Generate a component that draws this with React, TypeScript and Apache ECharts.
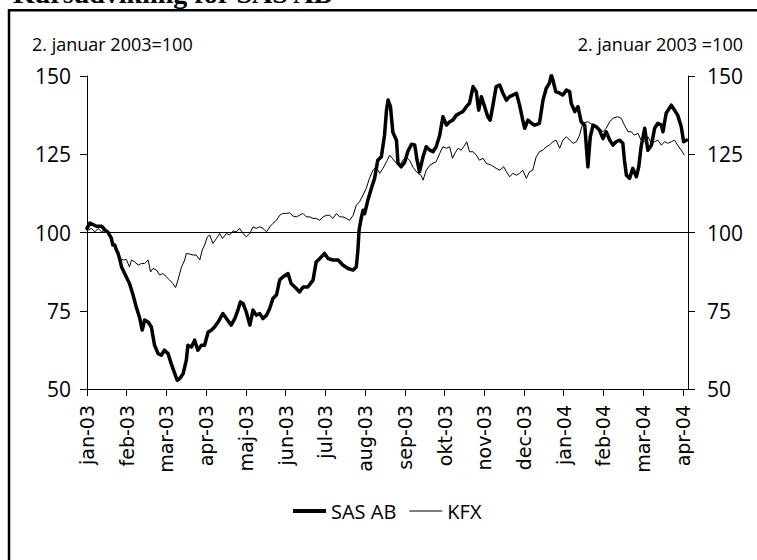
import React, { useEffect, useRef } from 'react';
import * as echarts from 'echarts';

const titleText = 'Kursudvikling for SAS AB';
const baseNoteLeft = '2. januar 2003=100';
const baseNoteRight = '2. januar 2003 =100';
const monthLabels = ['jan-03', 'feb-03', 'mar-03', 'apr-03', 'maj-03', 'jun-03', 'jul-03', 'aug-03', 'sep-03', 'okt-03', 'nov-03', 'dec-03', 'jan-04', 'feb-04', 'mar-04', 'apr-04'];
const yMin = 50;
const yMax = 150;
const yStep = 25;
const baseLevel = 100;

// [months since 1 Jan 2003, index value]
const sasAB: [number, number][] = [
  [0, 101.3], [0.07, 103], [0.24, 102], [0.37, 102], [0.45, 100.8], [0.52, 100.2], [0.61, 98.3], [0.65, 96], [0.7, 96], [0.74, 94.4],
  [0.78, 93.4], [0.82, 91.7], [0.87, 89], [0.99, 85.8], [1.07, 83.7], [1.16, 80], [1.24, 76.2], [1.33, 72.5], [1.39, 68.8], [1.45, 72],
  [1.54, 71.4], [1.62, 69.8], [1.7, 64], [1.79, 61.3], [1.87, 60.8], [1.95, 62.4], [2.04, 61.3], [2.12, 58.1], [2.21, 54.9], [2.27, 52.8],
  [2.33, 53.3], [2.42, 54.9], [2.5, 59.2], [2.54, 64], [2.63, 63.4], [2.71, 65.6], [2.79, 62.4], [2.88, 64], [2.96, 64], [3.05, 68.2],
  [3.13, 68.8], [3.21, 69.8], [3.3, 71.4], [3.42, 74.1], [3.51, 72.5], [3.63, 70.4], [3.72, 72.5], [3.8, 75.2], [3.86, 77.8], [3.93, 77.3],
  [4.01, 74.6], [4.1, 70.4], [4.18, 75.2], [4.26, 73.6], [4.35, 74.1], [4.43, 72.5], [4.52, 73.6], [4.6, 75.7], [4.68, 78.9], [4.77, 80],
  [4.85, 84.8], [4.93, 85.8], [5.06, 86.9], [5.14, 83.7], [5.27, 82.1], [5.35, 81], [5.44, 82.6], [5.56, 82.6], [5.69, 84.8], [5.77, 90.6],
  [5.86, 91.7], [5.98, 93.3], [6.07, 91.7], [6.19, 91.2], [6.32, 91.2], [6.44, 89.6], [6.57, 88.5], [6.7, 88], [6.78, 89], [6.82, 94.4],
  [6.85, 100.8], [6.91, 105], [6.95, 107.1], [6.99, 106], [7.07, 110.3], [7.16, 114.1], [7.24, 117.3], [7.32, 123.1], [7.41, 124.2], [7.49, 131.1],
  [7.54, 139.1], [7.58, 142.3], [7.64, 140.2], [7.7, 132], [7.79, 129.5], [7.83, 122.1], [7.91, 121], [8.0, 122.5], [8.08, 126], [8.17, 128.2],
  [8.25, 128], [8.31, 123.1], [8.37, 119.4], [8.46, 124.2], [8.54, 127.4], [8.63, 126.3], [8.71, 125.8], [8.79, 127.4], [8.88, 131.1], [8.96, 137],
  [9.05, 134.3], [9.13, 135.4], [9.21, 135.9], [9.3, 137.5], [9.38, 138.1], [9.46, 138.6], [9.55, 140.2], [9.63, 141.3], [9.72, 146.6], [9.8, 145],
  [9.86, 139.1], [9.93, 143.4], [10.01, 140.2], [10.09, 137], [10.15, 135.9], [10.22, 140.7], [10.3, 146.6], [10.39, 147.1], [10.47, 144.5], [10.56, 142.3],
  [10.64, 143.4], [10.72, 143.9], [10.81, 144.5], [10.89, 140.7], [10.97, 135.9], [11.02, 133.3], [11.1, 135.9], [11.19, 134.9], [11.27, 134.3], [11.39, 134.9],
  [11.48, 142.3], [11.56, 146], [11.64, 147.7], [11.69, 150.3], [11.73, 148.7], [11.8, 145], [11.9, 144.5], [11.98, 143.9], [12.07, 145.5], [12.15, 145],
  [12.19, 141.3], [12.28, 138.6], [12.36, 140.2], [12.44, 135.4], [12.53, 134.3], [12.61, 121], [12.67, 130.6], [12.74, 134.3], [12.82, 133.8], [12.9, 132.7],
  [12.99, 130], [13.07, 132.2], [13.16, 129.5], [13.24, 127.9], [13.32, 129], [13.41, 129.5], [13.49, 128.5], [13.53, 123.1], [13.58, 118.3], [13.66, 117.3],
  [13.74, 120.5], [13.83, 117.8], [13.89, 121], [13.95, 127.4], [14.04, 133.3], [14.12, 126.3], [14.21, 127.9], [14.29, 133.3], [14.37, 134.9], [14.46, 134.3],
  [14.5, 132.2], [14.58, 138.1], [14.71, 140.7], [14.79, 139.1], [14.87, 137.5], [14.96, 133.8], [15.02, 129], [15.09, 129.5],
];

const kfx: [number, number][] = [
  [0, 100.6], [0.11, 101.3], [0.2, 100.2], [0.28, 101.3], [0.37, 100.2], [0.45, 100.8], [0.57, 99.2], [0.65, 97], [0.74, 94.4], [0.82, 91.7],
  [0.91, 91.2], [0.99, 91.4], [1.07, 89], [1.12, 91.2], [1.2, 90.6], [1.29, 89.6], [1.37, 90.1], [1.45, 90.1], [1.54, 91.2], [1.6, 87.4],
  [1.66, 88.5], [1.75, 88], [1.83, 86.4], [1.91, 86.9], [2.0, 85.8], [2.08, 84.8], [2.16, 83.7], [2.23, 82.4], [2.29, 84.8], [2.38, 89],
  [2.46, 91.2], [2.5, 93.3], [2.59, 93.1], [2.67, 92.8], [2.75, 92.8], [2.84, 91.2], [2.9, 94.4], [2.96, 96], [3.03, 98.6], [3.09, 99.2],
  [3.17, 96.5], [3.26, 98.1], [3.34, 99.7], [3.41, 98.1], [3.51, 99.7], [3.59, 99.2], [3.68, 100.5], [3.76, 100.2], [3.84, 101.3], [3.93, 99.7],
  [4.01, 98.6], [4.1, 99.7], [4.18, 101.8], [4.26, 101.3], [4.35, 101.8], [4.43, 101.3], [4.52, 100.2], [4.6, 101.8], [4.68, 102.9], [4.77, 103.9],
  [4.85, 105.5], [4.93, 106.1], [5.02, 106.1], [5.1, 106.3], [5.19, 105.2], [5.27, 105], [5.35, 105.5], [5.44, 106.1], [5.52, 105], [5.61, 105],
  [5.69, 104.5], [5.77, 104.5], [5.86, 103.9], [5.94, 105], [6.03, 105.5], [6.11, 105.5], [6.19, 104.5], [6.28, 106.1], [6.36, 105], [6.44, 105],
  [6.53, 104.5], [6.61, 103.9], [6.7, 105.5], [6.78, 108.7], [6.86, 109.8], [6.95, 112], [7.03, 114.1], [7.11, 117.3], [7.2, 119.9], [7.28, 121],
  [7.37, 118.9], [7.45, 120.5], [7.54, 122.6], [7.62, 124.7], [7.7, 123.5], [7.79, 122.1], [7.87, 121.2], [7.95, 123.1], [8.04, 124], [8.12, 123.1],
  [8.21, 120.8], [8.29, 119.5], [8.33, 118.9], [8.41, 118.3], [8.46, 116.7], [8.54, 119.9], [8.63, 121.5], [8.71, 122.1], [8.79, 122.6], [8.88, 125.3],
  [8.96, 127.4], [9.05, 126.9], [9.13, 127.4], [9.2, 123.7], [9.26, 125.3], [9.34, 126.9], [9.42, 126.3], [9.51, 127.9], [9.56, 129], [9.63, 125.8],
  [9.72, 125.8], [9.8, 124.7], [9.88, 123.1], [9.97, 123.7], [10.05, 122.1], [10.18, 121.5], [10.3, 120.5], [10.39, 119.9], [10.49, 121], [10.56, 119.4],
  [10.64, 117.8], [10.72, 118.9], [10.81, 118.3], [10.89, 118.9], [10.97, 119.9], [11.06, 117.3], [11.14, 119.4], [11.22, 119.9], [11.31, 124.2], [11.39, 125.8],
  [11.48, 126.3], [11.56, 127.4], [11.64, 127.9], [11.73, 129], [11.81, 129.5], [11.9, 126.9], [11.98, 129.5], [12.07, 130.6], [12.15, 129.5], [12.24, 128.5],
  [12.32, 129], [12.4, 131.1], [12.48, 134.9], [12.61, 135.4], [12.74, 134.3], [12.86, 133.8], [12.99, 132.2], [13.07, 133.3], [13.16, 135.4], [13.24, 136.5],
  [13.36, 137], [13.45, 136.5], [13.53, 134.3], [13.62, 132.2], [13.7, 132.2], [13.78, 131.1], [13.87, 131.7], [13.95, 129.5], [14.04, 129], [14.12, 130.6],
  [14.21, 128.5], [14.29, 129], [14.37, 129.5], [14.46, 127.9], [14.54, 129], [14.62, 128.5], [14.71, 129], [14.79, 129.5], [14.87, 127.9], [14.96, 126.3],
  [15.04, 124.7],
];

const xEnd = 15.13;

export default function App() {
  const ref = useRef<HTMLDivElement>(null);

  useEffect(() => {
    if (!ref.current) return;
    const chart = echarts.init(ref.current, undefined, { renderer: 'svg' });
    const monthIdx = monthLabels.map((_, i) => i);
    const axisColor = '#000';
    const yAxisBase = (pos: 'left' | 'right') => ({
      type: 'value',
      position: pos,
      min: yMin,
      max: yMax,
      interval: yStep,
      axisLine: { show: true, lineStyle: { color: axisColor, width: 1 } },
      axisTick: { show: true, length: 7, lineStyle: { color: axisColor, width: 1 } },
      axisLabel: { margin: pos === 'left' ? 16 : 19, color: '#000', fontFamily: 'Open Sans', fontSize: 21 },
      splitLine: { show: false },
    });
    const option: any = {
      animation: false,
      backgroundColor: '#fff',
      grid: { left: 87, top: 76, width: 601, height: 313, containLabel: false },
      xAxis: {
        type: 'value',
        min: 0,
        max: xEnd,
        axisLine: { show: true, onZero: false, lineStyle: { color: axisColor, width: 1 } },
        axisTick: { show: true, length: 7, customValues: monthIdx, lineStyle: { color: axisColor, width: 1 } },
        axisLabel: {
          customValues: monthIdx,
          formatter: (v: number) => monthLabels[Math.round(v)] ?? '',
          rotate: 90,
          margin: 16,
          color: '#000',
          fontFamily: 'DejaVu Sans',
          fontSize: 19,
        },
        splitLine: { show: false },
      },
      yAxis: [yAxisBase('left'), yAxisBase('right')],
      legend: {
        data: [
          { name: 'SAS AB', icon: 'path://M0,0 H34 V4 H0 Z' },
          { name: 'KFX', icon: 'path://M0,0 H32 V1 H0 Z' },
        ],
        left: 288,
        top: 496,
        itemWidth: 33,
        itemHeight: 12,
        itemGap: 13,
        textStyle: { color: '#000', fontFamily: 'Open Sans', fontSize: 20 },
      },
      graphic: [
        {
          type: 'rect',
          silent: true,
          shape: { x: 9, y: 10.3, width: 900, height: 700 },
          style: { fill: 'none', stroke: '#000', lineWidth: 2.5 },
        },
        {
          type: 'text',
          x: 13,
          y: -6.5,
          style: { text: titleText, fontFamily: 'Liberation Serif', fontWeight: 'bold', fontSize: 28, fill: '#000', verticalAlign: 'middle' },
        },
        {
          type: 'text',
          x: 32,
          y: 44,
          style: { text: baseNoteLeft, fontFamily: 'Open Sans', fontSize: 18, fill: '#000', verticalAlign: 'middle' },
        },
        {
          type: 'text',
          x: 743,
          y: 44,
          style: { text: baseNoteRight, fontFamily: 'Open Sans', fontSize: 18, fill: '#000', align: 'right', verticalAlign: 'middle' },
        },
      ],
      series: [
        {
          name: 'SAS AB',
          type: 'line',
          data: sasAB,
          symbol: 'none',
          z: 3,
          lineStyle: { color: '#000', width: 3.5, join: 'round', cap: 'round' },
          itemStyle: { color: '#000' },
          markLine: {
            silent: true,
            symbol: 'none',
            label: { show: false },
            lineStyle: { color: '#000', width: 1, type: 'solid' },
            data: [{ yAxis: baseLevel }],
          },
        },
        {
          name: 'KFX',
          type: 'line',
          data: kfx,
          symbol: 'none',
          z: 2,
          lineStyle: { color: '#000', width: 1 },
          itemStyle: { color: '#000' },
        },
      ],
    };
    chart.setOption(option);
    return () => chart.dispose();
  }, []);

  return <div ref={ref} style={{ position: 'fixed', left: 0, top: 0, width: 757, height: 560 }} />;
}
